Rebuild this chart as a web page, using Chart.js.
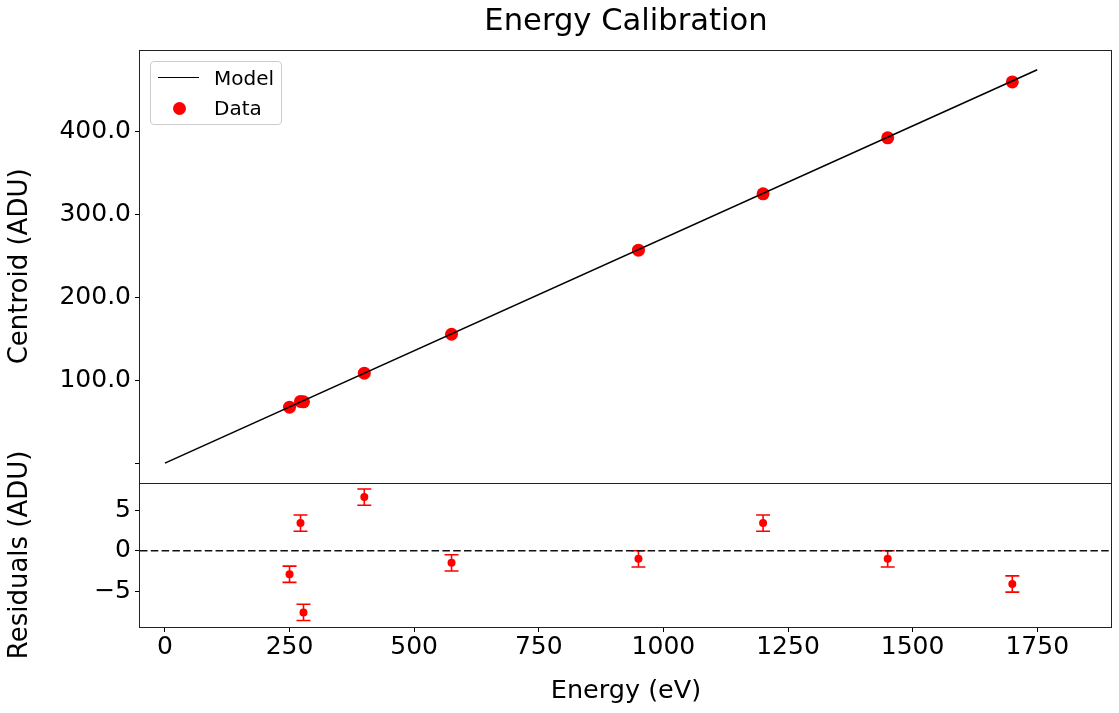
<!DOCTYPE html>
<html>
<head>
<meta charset="utf-8">
<script src="https://cdn.jsdelivr.net/npm/chart.js@4.4.0/dist/chart.umd.min.js"></script>
<style>
  body { margin: 0; background: #fff; }
  #wrap { position: relative; width: 1119px; height: 713px; }
  #legend {
    position: absolute; left: 150px; top: 61px; width: 130px; height: 62px;
    border: 1px solid #cccccc; border-radius: 4px; background: rgba(255,255,255,0.8);
    font-family: 'DejaVu Sans', sans-serif; font-size: 20px; color: #000;
  }
  .item { position: absolute; left: 0; height: 24px; width: 130px; }
  .item span.txt { position: absolute; left: 63px; top: 0; line-height: 24px; }
  .line { position: absolute; left: 7px; top: 11px; width: 41px; height: 0; border-top: 1.6px solid #000; }
  .dot { position: absolute; left: 21.5px; top: 5.5px; width: 13px; height: 13px; border-radius: 50%; background: #ff0000; }
</style>
</head>
<body>
<div id="wrap">
  <canvas id="myChart" width="1119" height="713"></canvas>
  <div id="legend">
    <div class="item" style="top:4px"><div class="line"></div><span class="txt">Model</span></div>
    <div class="item" style="top:34px"><div class="dot"></div><span class="txt">Data</span></div>
  </div>
</div>
<script>
// measured lines (eV -> ADU)
const energy = [250, 272, 278, 400, 575, 950, 1200, 1450, 1700];
const centroid = [67.5, 74.5, 74.0, 108.5, 155.5, 257.0, 325.0, 392.5, 460.0];
const residual = [-2.9, 3.4, -7.6, 6.6, -1.5, -1.0, 3.4, -1.0, -4.1];
const residualErr = [1, 1, 1, 1, 1, 1, 1, 1, 1];

// linear model
const modelEnergy = [0, 1750];
const modelCentroid = [0, 474.8];

const xTicks = [0, 250, 500, 750, 1000, 1250, 1500, 1750];
const xRange = [-50, 1900];
const zeroLine = [0, 0];

Chart.defaults.font.family = "'DejaVu Sans', sans-serif";
Chart.defaults.color = '#000';

const toPoints = (xs, ys) => xs.map((x, i) => ({x: x, y: ys[i]}));

// frame around both panels + error bars on residuals
const panelFrame = {
    id: 'panelFrame',
    beforeDatasetsDraw(chart) {
        const ctx = chart.ctx;
        const xs = chart.scales.x, ys = chart.scales.y2;
        ctx.save();
        ctx.strokeStyle = '#ff0000';
        ctx.lineWidth = 1.6;
        energy.forEach((e, i) => {
            const px = xs.getPixelForValue(e);
            const lo = ys.getPixelForValue(residual[i] - residualErr[i]);
            const hi = ys.getPixelForValue(residual[i] + residualErr[i]);
            ctx.beginPath();
            ctx.moveTo(px, lo); ctx.lineTo(px, hi);
            ctx.moveTo(px - 7, lo); ctx.lineTo(px + 7, lo);
            ctx.moveTo(px - 7, hi); ctx.lineTo(px + 7, hi);
            ctx.stroke();
        });
        ctx.restore();
    },
    afterDraw(chart) {
        const ctx = chart.ctx;
        const a = chart.chartArea;
        const mid = Math.round(chart.scales.y2.top) + 0.5;
        ctx.save();
        ctx.strokeStyle = '#222';
        ctx.lineWidth = 1;
        ctx.strokeRect(Math.round(a.left) - 0.5, Math.round(a.top) + 0.5,
            Math.round(a.right - a.left), Math.round(a.bottom - a.top));
        ctx.beginPath();
        ctx.moveTo(a.left, mid); ctx.lineTo(a.right, mid);
        ctx.stroke();
        ctx.restore();
    }
};

const tickGrid = {display: true, drawOnChartArea: false, drawTicks: true, tickLength: 5, tickColor: '#000', tickWidth: 1};

new Chart(document.getElementById('myChart'), {
    data: {
        datasets: [
            {
                type: 'line', label: 'Model', yAxisID: 'y',
                data: toPoints(modelEnergy, modelCentroid),
                borderColor: '#000', borderWidth: 1.6, pointRadius: 0, fill: false
            },
            {
                type: 'scatter', label: 'Data', yAxisID: 'y',
                data: toPoints(energy, centroid),
                backgroundColor: '#ff0000', borderWidth: 0, pointRadius: 6.5
            },
            {
                type: 'line', label: 'zero', yAxisID: 'y2',
                data: toPoints(xRange, zeroLine),
                borderColor: '#111', borderWidth: 1.6, borderDash: [7.5, 3.3], pointRadius: 0, fill: false
            },
            {
                type: 'scatter', label: 'Residuals', yAxisID: 'y2',
                data: toPoints(energy, residual),
                backgroundColor: '#ff0000', borderWidth: 0, pointRadius: 4
            }
        ]
    },
    options: {
        responsive: false,
        animation: false,
        layout: {padding: {left: 0, right: 7, top: 0, bottom: 0}},
        plugins: {
            legend: {display: false},
            tooltip: {enabled: false},
            title: {
                display: true, text: 'Energy Calibration', fullSize: false,
                font: {size: 30.6, weight: 'normal', lineHeight: 1.2},
                padding: {top: 3.4, bottom: 9.9}
            }
        },
        scales: {
            x: {
                type: 'linear', position: 'bottom',
                min: xRange[0], max: xRange[1],
                afterBuildTicks: s => { s.ticks = xTicks.map(v => ({value: v})); },
                afterFit: s => { s.height = 86; },
                grid: tickGrid, border: {display: false},
                ticks: {font: {size: 25, lineHeight: 1}, padding: 3, maxRotation: 0, autoSkip: false,
                    callback: v => String(v)},
                title: {display: true, text: 'Energy (eV)', font: {size: 25.5, lineHeight: 1}, padding: {top: 0, bottom: 8.5}}
            },
            y: {
                type: 'linear', position: 'left', stack: 'panels', stackWeight: 3, weight: 1,
                min: -23.7, max: 498.5,
                ticks: {stepSize: 100, includeBounds: false, font: {size: 25}, padding: 4,
                    callback: v => v === 0 ? '' : v.toFixed(1)},
                afterFit: s => { s.width = 140; },
                grid: tickGrid, border: {display: false},
                title: {display: true, text: 'Centroid (ADU)', font: {size: 26, lineHeight: 1}, padding: {top: 7, bottom: 0}}
            },
            y2: {
                type: 'linear', position: 'left', stack: 'panels', stackWeight: 1, weight: 0,
                min: -9.4, max: 8.37,
                ticks: {stepSize: 5, includeBounds: false, font: {size: 25}, padding: 4,
                    callback: v => v < 0 ? '\u2212' + Math.abs(v) : String(v)},
                afterFit: s => { s.width = 140; },
                grid: tickGrid, border: {display: false},
                title: {display: true, text: 'Residuals (ADU)', font: {size: 26, lineHeight: 1}, padding: {top: 7, bottom: 0}}
            }
        }
    },
    plugins: [panelFrame]
});
</script>
</body>
</html>
